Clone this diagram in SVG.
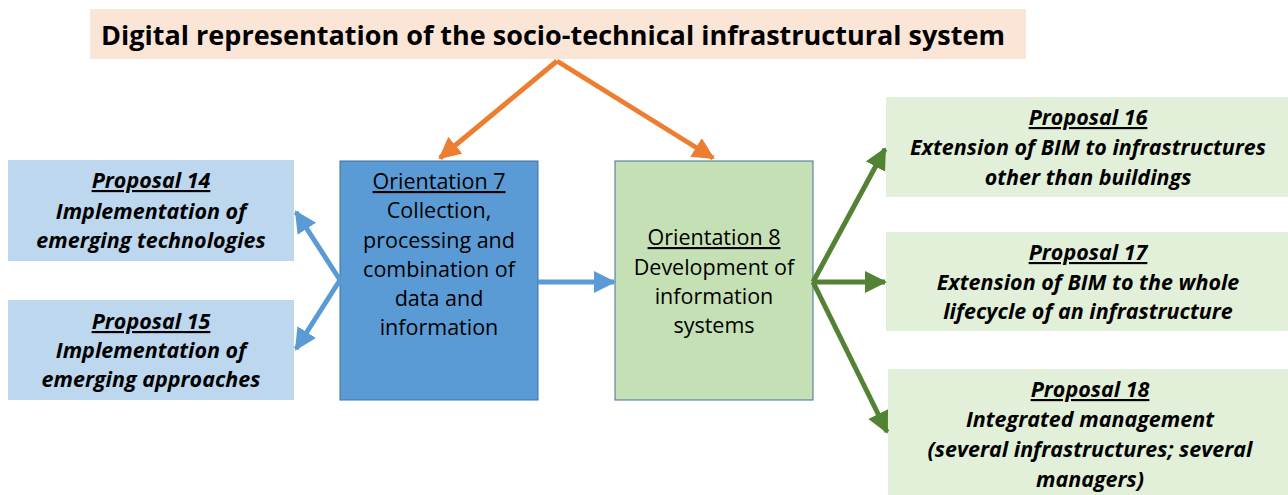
<svg xmlns="http://www.w3.org/2000/svg" width="1288" height="495" viewBox="0 0 1288 495">
<style>
.t{font-family:"Open Sans","Liberation Sans",sans-serif;text-anchor:middle;fill:#000}
.p{font-size:21.5px;font-weight:bold;font-style:italic}
.o{font-size:21.5px}
.u{text-decoration:underline}
.ln{fill:none;stroke-width:5}
</style>
<defs>
<marker id="ao" markerUnits="userSpaceOnUse" markerWidth="24" markerHeight="24" refX="20" refY="11" orient="auto"><path d="M0,0 L22,11 L0,22 Z" fill="#ED7D31"/></marker>
<marker id="ab" markerUnits="userSpaceOnUse" markerWidth="24" markerHeight="24" refX="20" refY="11" orient="auto"><path d="M0,0 L22,11 L0,22 Z" fill="#5B9BD5"/></marker>
<marker id="ag" markerUnits="userSpaceOnUse" markerWidth="24" markerHeight="24" refX="20" refY="11" orient="auto"><path d="M0,0 L22,11 L0,22 Z" fill="#548235"/></marker>
</defs>
<rect width="1288" height="495" fill="#fff"/>
<g id="title">
<rect x="90" y="9" width="936" height="50" fill="#FBE5D6"/>
<text class="t" x="553" y="45" font-size="27" font-weight="bold">Digital representation of the socio-technical infrastructural system</text>
</g>
<g id="p14">
<rect x="8" y="160" width="286" height="101" fill="#BDD7EE"/>
<text class="t p" x="151" y="188"><tspan class="u">Proposal 14</tspan><tspan x="151" y="219">Implementation of</tspan><tspan x="151" y="248">emerging technologies</tspan></text>
</g>
<g id="p15">
<rect x="8" y="300" width="286" height="100" fill="#BDD7EE"/>
<text class="t p" x="151" y="329"><tspan class="u">Proposal 15</tspan><tspan x="151" y="358">Implementation of</tspan><tspan x="151" y="387">emerging approaches</tspan></text>
</g>
<g id="o7">
<rect x="340" y="161" width="198" height="239" fill="#5B9BD5" stroke="#41719C" stroke-width="1"/>
<text class="t o" x="439" y="189"><tspan class="u">Orientation 7</tspan><tspan x="439" y="218">Collection,</tspan><tspan x="439" y="248">processing and</tspan><tspan x="439" y="277">combination of</tspan><tspan x="439" y="306">data and</tspan><tspan x="439" y="335">information</tspan></text>
</g>
<g id="o8">
<rect x="615" y="161" width="198" height="239" fill="#C5E0B4" stroke="#41719C" stroke-width="1"/>
<text class="t o" x="714" y="245"><tspan class="u">Orientation 8</tspan><tspan x="714" y="275">Development of</tspan><tspan x="714" y="304">information</tspan><tspan x="714" y="333">systems</tspan></text>
</g>
<g id="p16">
<rect x="886" y="97" width="402" height="100" fill="#E2F0D9"/>
<text class="t p" x="1088" y="125"><tspan class="u">Proposal 16</tspan><tspan x="1088" y="155">Extension of BIM to infrastructures</tspan><tspan x="1088" y="185">other than buildings</tspan></text>
</g>
<g id="p17">
<rect x="886" y="232" width="402" height="99" fill="#E2F0D9"/>
<text class="t p" x="1088" y="260"><tspan class="u">Proposal 17</tspan><tspan x="1088" y="290">Extension of BIM to the whole</tspan><tspan x="1088" y="319">lifecycle of an infrastructure</tspan></text>
</g>
<g id="p18">
<rect x="888" y="369" width="400" height="126" fill="#E2F0D9"/>
<text class="t p" x="1090" y="397"><tspan class="u">Proposal 18</tspan><tspan x="1090" y="427">Integrated management</tspan><tspan x="1090" y="457">(several infrastructures; several</tspan><tspan x="1090" y="487">managers)</tspan></text>
</g>
<g id="connectors">
<path class="ln" stroke="#ED7D31" d="M557,61 L440,158" marker-end="url(#ao)"/>
<path class="ln" stroke="#ED7D31" d="M557,61 L713,158" marker-end="url(#ao)"/>
<path class="ln" stroke="#5B9BD5" d="M340,280 L296,212" marker-end="url(#ab)"/>
<path class="ln" stroke="#5B9BD5" d="M340,280 L296,349" marker-end="url(#ab)"/>
<path class="ln" stroke="#5B9BD5" d="M538,282 L614,282" marker-end="url(#ab)"/>
<path class="ln" stroke="#548235" d="M813,282 L885,149" marker-end="url(#ag)"/>
<path class="ln" stroke="#548235" d="M813,282 L885,282" marker-end="url(#ag)"/>
<path class="ln" stroke="#548235" d="M813,282 L887,432" marker-end="url(#ag)"/>
</g>
</svg>
